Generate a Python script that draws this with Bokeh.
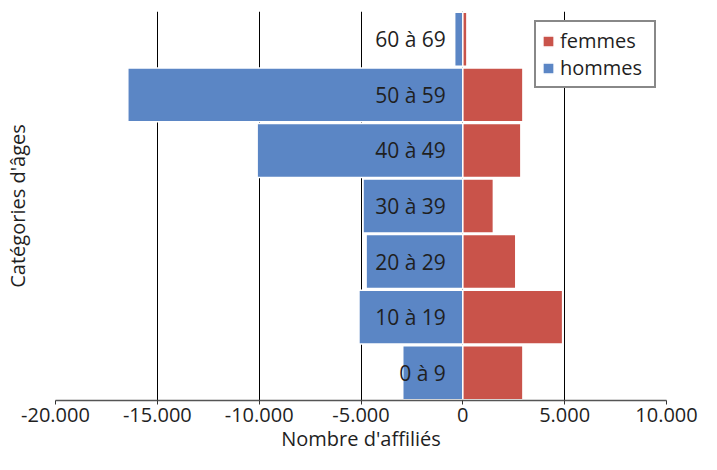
from bokeh.plotting import figure
from bokeh.models import Range1d, FixedTicker, Legend, LegendItem, ColumnDataSource
from bokeh.core.properties import value
from bokeh.embed import file_html
from bokeh.resources import INLINE

# ---- data -------------------------------------------------------------
categories = ["0 à 9", "10 à 19", "20 à 29", "30 à 39", "40 à 49", "50 à 59", "60 à 69"]
hommes = [2950, 5100, 4750, 4900, 10100, 16450, 400]
femmes = [2950, 4900, 2600, 1500, 2850, 2950, 200]
tick_values = [-20000, -15000, -10000, -5000, 0, 5000, 10000]
tick_labels = ["-20.000", "-15.000", "-10.000", "-5.000", "0", "5.000", "10.000"]

FONT = "Open Sans"
BLUE = "#5B86C5"
RED = "#C9534A"
TXT = "#1f1f1f"

n = len(categories)
src = ColumnDataSource(dict(
    cat=categories,
    pos=list(range(n)),
    hommes_left=[-v for v in hommes],
    femmes_right=femmes,
    zero=[0] * n,
))

p = figure(width=701, height=454, output_backend="svg", toolbar_location=None,
           x_range=Range1d(-20000, 10000),
           y_range=Range1d(-0.5, n - 0.5),
           min_border_left=54, min_border_right=35, min_border_top=11,
           min_border_bottom=52)
p.outline_line_color = None
p.background_fill_color = "white"

# grid
p.xgrid.ticker = FixedTicker(ticks=tick_values)
p.xgrid.grid_line_color = "black"
p.xgrid.grid_line_width = 1
p.ygrid.grid_line_color = None

# bars
r_h = p.hbar(y="pos", left="hommes_left", right="zero", height=0.97, source=src,
             fill_color=BLUE, line_color="white", line_width=1.5)
r_f = p.hbar(y="pos", left="zero", right="femmes_right", height=0.97, source=src,
             fill_color=RED, line_color="white", line_width=1.5)

# category labels inside the bars
p.text(x="zero", y="pos", text="cat", source=src, x_offset=-17,
       text_align="right", text_baseline="middle",
       text_font=value(FONT), text_font_size="21px", text_color=TXT)

# x axis
xa = p.xaxis[0]
xa.ticker = FixedTicker(ticks=tick_values)
xa.major_label_overrides = {v: l for v, l in zip(tick_values, tick_labels)}
xa.minor_tick_line_color = None
xa.major_tick_in = 0
xa.major_tick_out = 4
xa.major_tick_line_color = "#333333"
xa.axis_line_color = "#555555"
xa.axis_line_width = 1.5
xa.major_label_text_font = FONT
xa.major_label_text_font_size = "20px"
xa.major_label_text_color = TXT
xa.major_label_standoff = 3
xa.axis_label = "Nombre d'affiliés"
xa.axis_label_text_font = FONT
xa.axis_label_text_font_size = "20px"
xa.axis_label_text_font_style = "normal"
xa.axis_label_text_color = TXT
xa.axis_label_standoff = 0

# y axis (title only)
ya = p.yaxis[0]
ya.ticker = FixedTicker(ticks=[])
ya.major_tick_line_color = None
ya.minor_tick_line_color = None
ya.axis_line_color = None
ya.major_label_standoff = 0
ya.axis_label = "Catégories d'âges"
ya.axis_label_text_font = FONT
ya.axis_label_text_font_size = "20px"
ya.axis_label_text_font_style = "normal"
ya.axis_label_text_color = TXT
ya.axis_label_standoff = 25

# legend
legend = Legend(items=[LegendItem(label="femmes", renderers=[r_f]),
                       LegendItem(label="hommes", renderers=[r_h])],
                location=(479, 312))
legend.border_line_color = "#111111"
legend.border_line_width = 2.5
legend.background_fill_color = "white"
legend.background_fill_alpha = 1
legend.label_text_font = FONT
legend.label_text_font_size = "20px"
legend.label_text_color = TXT
legend.glyph_width = 14
legend.glyph_height = 14
legend.label_standoff = 5
legend.label_height = 20
legend.label_width = 89
legend.spacing = 0
legend.padding = 5
legend.margin = 0
p.add_layout(legend, "center")

open("out.html", "w").write(file_html(p, INLINE))
